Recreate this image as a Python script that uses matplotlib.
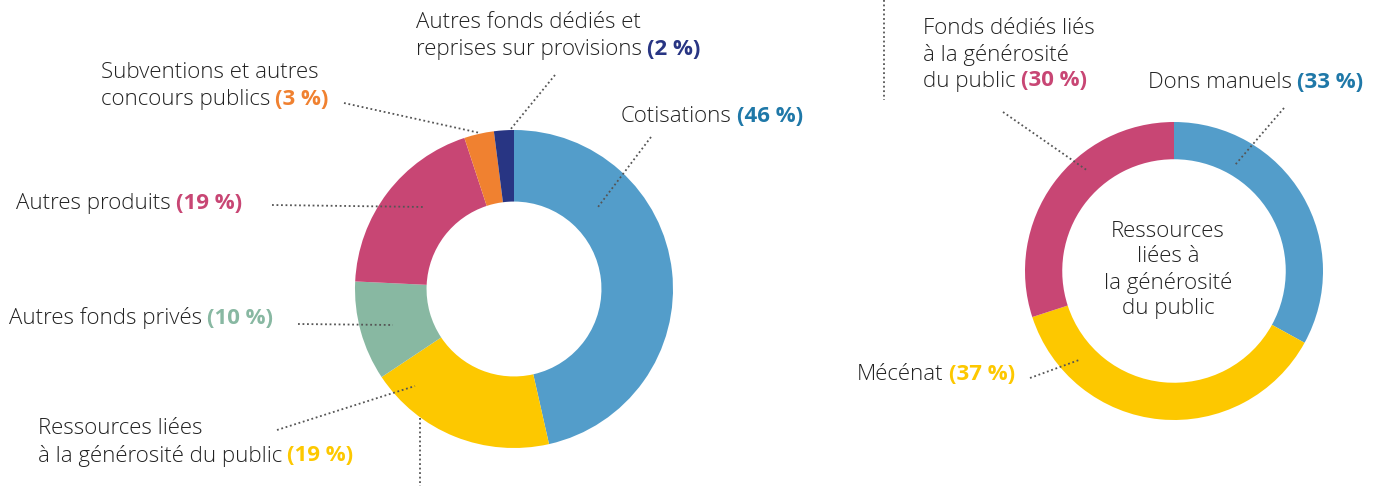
import matplotlib
matplotlib.use("Agg")
import matplotlib.pyplot as plt

W, H = 1376, 486

# left donut: ressources totales
left_labels = ["Cotisations", "Ressources liées\nà la générosité du public", "Autres fonds privés",
               "Autres produits", "Subventions et autres\nconcours publics",
               "Autres fonds dédiés et\nreprises sur provisions"]
left_values = [46, 19, 10, 19, 3, 2]
left_colors = ["#539dca", "#fdc800", "#88b8a2", "#c84674", "#f08130", "#283583"]
left_text_colors = ["#1f78a8", "#fdc800", "#88b8a2", "#c84674", "#f08130", "#283583"]

# right donut: ressources liées à la générosité du public
right_labels = ["Dons manuels", "Mécénat", "Fonds dédiés liés\nà la générosité\ndu public"]
right_values = [33, 37, 30]
right_colors = ["#539dca", "#fdc800", "#c84674"]
right_text_colors = ["#1f78a8", "#fdc800", "#c84674"]
center_text = "Ressources\nliées à\nla générosité\ndu public"

FONT = "Open Sans"
FS = 16
TXT = "#222222"
LINE = "#555555"

fig = plt.figure(figsize=(W / 100, H / 100), dpi=100, facecolor="white")


def donut(cx, cy, r, width, values, colors):
    ax = fig.add_axes([(cx - r) / W, 1 - (cy + r) / H, 2 * r / W, 2 * r / H])
    ax.pie(values, colors=colors, startangle=90, counterclock=False, radius=1,
           wedgeprops=dict(width=width, linewidth=0))
    ax.set_xlim(-1, 1); ax.set_ylim(-1, 1); ax.axis("off")
    return ax


donut(514, 289, 159, 0.45, left_values, left_colors)
donut(1174, 271, 149, 0.25, right_values, right_colors)

# overlay in pixel coords for labels and leader lines, on top of the pies
ov = fig.add_axes([0, 0, 1, 1])
ov.set_xlim(0, W); ov.set_ylim(H, 0); ov.axis("off")
ov.set_zorder(10)

renderer = fig.canvas.get_renderer()


def label(x, y, text, value, color, lh=27.5):
    lines = text.split("\n")
    for i, ln in enumerate(lines):
        t = ov.text(x, y + i * lh, ln, fontsize=FS, family=FONT, color=TXT,
                    ha="left", va="center", weight="light")
    bb = t.get_window_extent(renderer)
    x_end = ov.transData.inverted().transform((bb.x1, bb.y0))[0]
    ov.text(x_end + 5, y + (len(lines) - 1) * lh, f"({value} %)", fontsize=FS,
            family=FONT, weight="bold", color=color, ha="left", va="center")


def leader(p0, p1):
    ov.plot([p0[0], p1[0]], [p0[1], p1[1]], ls=(0, (1, 1.5)), color=LINE, lw=1.3)


# left labels
label_pos_left = [(621, 116), (38, 428), (9, 318), (16, 203), (101, 72), (416, 22)]
for (x, y), lab, v, c in zip(label_pos_left, left_labels, left_values, left_text_colors):
    label(x, y, lab, v, c)

leader((651, 137), (598, 207))
leader((277, 430), (415, 386))
leader((298, 324), (393, 325))
leader((272, 205), (425, 207))
leader((344, 103), (480, 133))
leader((555, 75), (510, 130))
leader((420, 418), (420, 486))

# right labels
label_pos_right = [(1148, 83), (857, 374), (923, 28)]
for (x, y), lab, v, c in zip(label_pos_right, right_labels, right_values, right_text_colors):
    label(x, y, lab, v, c, lh=26.5)

leader((1284, 108), (1235, 165))
leader((1030, 378), (1079, 360))
leader((1003, 112), (1088, 171))
leader((884, 0), (884, 100))

ov.text(1168, 270, center_text, fontsize=FS, family=FONT, color=TXT, weight="light",
        ha="center", va="center", linespacing=1.25)

fig.savefig("out.png", dpi=100, facecolor="white")
